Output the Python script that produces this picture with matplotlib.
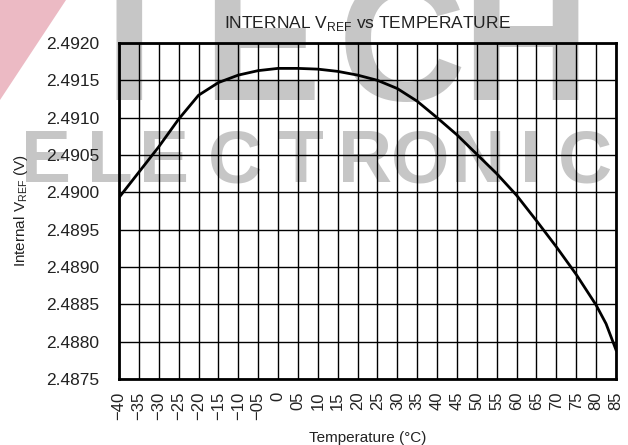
"""
Internal VREF vs temperature curve, redrawn from a datasheet figure.
"""

import matplotlib
matplotlib.use("Agg")
import matplotlib.pyplot as plt
from matplotlib.patches import Polygon

plt.rcParams['font.family'] = ['Liberation Sans', 'DejaVu Sans']
plt.rcParams['mathtext.fontset'] = 'custom'
plt.rcParams['mathtext.rm'] = 'Liberation Sans'

# Curve values
temperature = [-40, -35, -30, -25, -20, -15, -10, -5, 0, 5, 10, 15, 20, 25,
               30, 35, 40, 45, 50, 55, 60, 65, 70, 75, 80, 82.5, 85]
vref = [2.48993, 2.49027, 2.49061, 2.49098, 2.49130, 2.49147, 2.49157,
        2.49163, 2.49166, 2.49166, 2.49165, 2.49162, 2.49157, 2.49150,
        2.49139, 2.49122, 2.49100, 2.49077, 2.49051, 2.49025, 2.48996,
        2.48962, 2.48927, 2.48890, 2.48849, 2.48824, 2.48789]

x_ticks = list(range(-40, 90, 5))
x_tick_labels = ['\u221240', '\u221235', '\u221230', '\u221225', '\u221220',
                 '\u221215', '\u221210', '\u221205', '0', '05', '10', '15',
                 '20', '25', '30', '35', '40', '45', '50', '55', '60', '65',
                 '70', '75', '80', '85']
y_ticks = [2.4875, 2.4880, 2.4885, 2.4890, 2.4895, 2.4900, 2.4905, 2.4910,
           2.4915, 2.4920]

fig = plt.figure(figsize=(6.28, 4.45), dpi=100)

# watermark behind the chart
wm_gray = '#c6c6c6'
fig.patches.append(Polygon([[0, 1], [66 / 628, 1], [0, 1 - 100 / 445]],
                           closed=True, transform=fig.transFigure,
                           facecolor='#ecbac4', edgecolor='none', zorder=-2))
for letter, xc in zip(['T', 'E', 'C', 'H'], [129, 261, 402, 525]):
    fig.text(xc / 628, 1 - 100 / 445, letter, fontsize=128, fontweight='bold',
             color=wm_gray, ha='center', va='baseline', zorder=-2)
wm_letters = ['E', 'L', 'E', 'C', 'T', 'R', 'O', 'N', 'I', 'C']
wm_x = [46, 110, 164, 235, 300, 365, 420, 478, 530, 585]
for letter, xc in zip(wm_letters, wm_x):
    fig.text(xc / 628, 1 - 182 / 445, letter, fontsize=54, fontweight='bold',
             color=wm_gray, ha='center', va='baseline', zorder=-2)

ax = fig.add_axes([119 / 628, 1 - 379 / 445, 497 / 628, 336 / 445])
ax.set_facecolor('none')

ax.plot(temperature, vref, color='black', linewidth=2.0, zorder=3)

ax.set_xlim(-40, 85)
ax.set_ylim(2.4875, 2.4920)
ax.set_xticks(x_ticks)
ax.set_xticklabels(x_tick_labels, rotation=90, fontsize=12, color='#222222')
ax.set_yticks(y_ticks)
ax.set_yticklabels([f'{v:.4f}' for v in y_ticks], fontsize=12.5, color='#222222')
ax.tick_params(axis='both', length=0)
ax.tick_params(axis='x', pad=9)
ax.tick_params(axis='y', pad=14)
ax.grid(True, color='black', linewidth=1.0)
ax.set_axisbelow(True)
for spine in ax.spines.values():
    spine.set_linewidth(2.0)

ax.set_xlabel('Temperature (\u00b0C)', fontsize=11, color='#222222', labelpad=8)
ax.set_ylabel(r'Internal V$_{\mathregular{REF}}$ (V)', fontsize=11,
              color='#222222', labelpad=12)
ax.set_title(r'INTERNAL V$_{\mathregular{REF}}$ vs TEMPERATURE', fontsize=12.5,
             color='#222222', pad=11)

fig.savefig('out.png', dpi=100)
